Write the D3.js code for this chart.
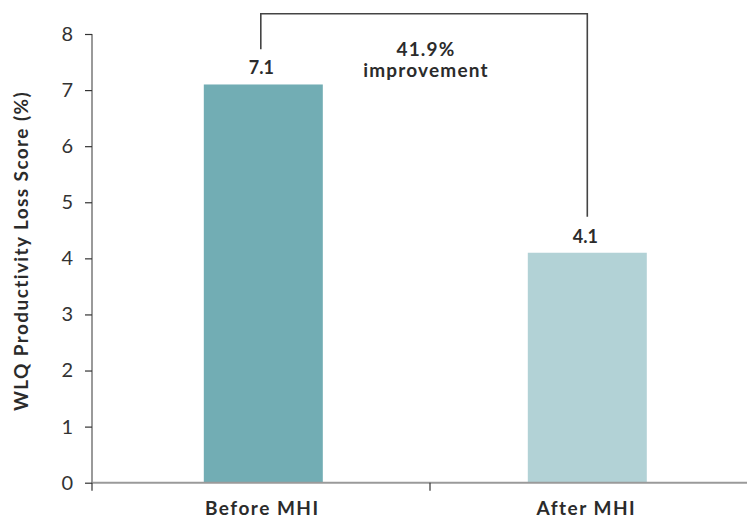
<!DOCTYPE html>
<html>
<head>
<meta charset="utf-8">
<script src="https://cdn.jsdelivr.net/npm/d3@7"></script>
<style>
  html, body { margin: 0; padding: 0; background: #fff; }
  svg { display: block; font-family: Lato, "Open Sans", sans-serif; }
</style>
</head>
<body>
<svg id="chart" width="747" height="519"></svg>
<script>
// Work Limitations Questionnaire productivity loss, before vs after MHI
const categories = ["Before MHI", "After MHI"];
const scores = [7.1, 4.1];
const valueLabels = ["7.1", "4.1"];
const yTicks = [0, 1, 2, 3, 4, 5, 6, 7, 8];
const barColors = ["#72adb4", "#b2d2d6"];
const improvementLines = ["41.9%", "improvement"];
const yTitle = "WLQ Productivity Loss Score (%)";

(function draw() {
  const svg = d3.select("#chart");
  const W = 747;
  const plotLeft = 92, plotBottom = 482.7, plotTop = 34;
  const ink = "#2b2b2b";

  const y = d3.scaleLinear().domain([0, 8]).range([plotBottom, plotTop]);
  // band edges carry the axis ticks; point scale carries bar centres
  const xBand = d3.scaleBand().domain(categories).range([plotLeft, 768]);
  const xC = d3.scalePoint().domain(categories).range([263.3, 587.3]);
  const barW = 119;

  // bars
  svg.append("g").selectAll("rect")
    .data(categories)
    .join("rect")
    .attr("x", d => xC(d) - barW / 2)
    .attr("width", barW)
    .attr("y", (d, i) => y(scores[i]))
    .attr("height", (d, i) => y(0) - y(scores[i]))
    .attr("fill", (d, i) => barColors[i]);

  // y axis
  const yAxis = svg.append("g").attr("transform", `translate(${plotLeft},0)`)
    .call(d3.axisLeft(y).tickValues(yTicks).tickFormat(d3.format("d")).tickSize(7).tickPadding(12));
  yAxis.select(".domain").attr("stroke", "#9a9a9a").attr("stroke-width", 2)
    .attr("d", `M0,${plotTop}V${plotBottom}`);
  yAxis.selectAll(".tick line").attr("stroke", "#333").attr("stroke-width", 1.2);
  yAxis.selectAll(".tick text").attr("fill", "#333")
    .style("font-size", "20px").style("font-weight", 400).style("font-family", "Lato, sans-serif");

  // x axis: band boundaries as ticks below the baseline
  const xg = svg.append("g");
  xg.append("line").attr("x1", plotLeft).attr("x2", W).attr("y1", plotBottom).attr("y2", plotBottom)
    .attr("stroke", "#9a9a9a").attr("stroke-width", 2);
  const edges = [xBand(categories[0]), xBand(categories[1]), xBand(categories[1]) + xBand.bandwidth()];
  xg.selectAll("line.edge").data(edges).join("line").attr("class", "edge")
    .attr("x1", d => d).attr("x2", d => d)
    .attr("y1", plotBottom).attr("y2", plotBottom + 8)
    .attr("stroke", "#333").attr("stroke-width", 1.2);

  // category labels
  svg.append("g").selectAll("text").data(categories).join("text")
    .attr("x", d => xC(d) - 1).attr("y", 514.5)
    .attr("text-anchor", "middle")
    .attr("fill", ink)
    .style("font-size", "19px").style("font-weight", 700).style("letter-spacing", "1.5px")
    .text(d => d);

  // value labels
  svg.append("g").selectAll("text").data(categories).join("text")
    .attr("x", d => xC(d) - 2).attr("y", (d, i) => y(scores[i]) - 10)
    .attr("text-anchor", "middle")
    .attr("fill", ink)
    .style("font-size", "18px").style("font-weight", 700)
    .text((d, i) => valueLabels[i]);

  // comparison bracket
  const bx1 = xC(categories[0]) - 2.5, bx2 = xC(categories[1]);
  svg.append("path")
    .attr("d", `M${bx1},49.3V13.7H${bx2}V216.7`)
    .attr("fill", "none").attr("stroke", "#444").attr("stroke-width", 1.6);

  // improvement note
  svg.append("text")
    .attr("text-anchor", "middle")
    .attr("fill", ink)
    .style("font-size", "19px").style("font-weight", 700).style("letter-spacing", "1.2px")
    .selectAll("tspan").data(improvementLines).join("tspan")
    .attr("x", 426).attr("y", (d, i) => 55.7 + i * 21)
    .text(d => d);

  // y axis title
  svg.append("text")
    .attr("transform", `translate(27.5,251) rotate(-90)`)
    .attr("text-anchor", "middle")
    .attr("fill", ink)
    .style("font-size", "19px").style("font-weight", 700).style("letter-spacing", "1.4px")
    .text(yTitle);
})();
</script>
</body>
</html>
